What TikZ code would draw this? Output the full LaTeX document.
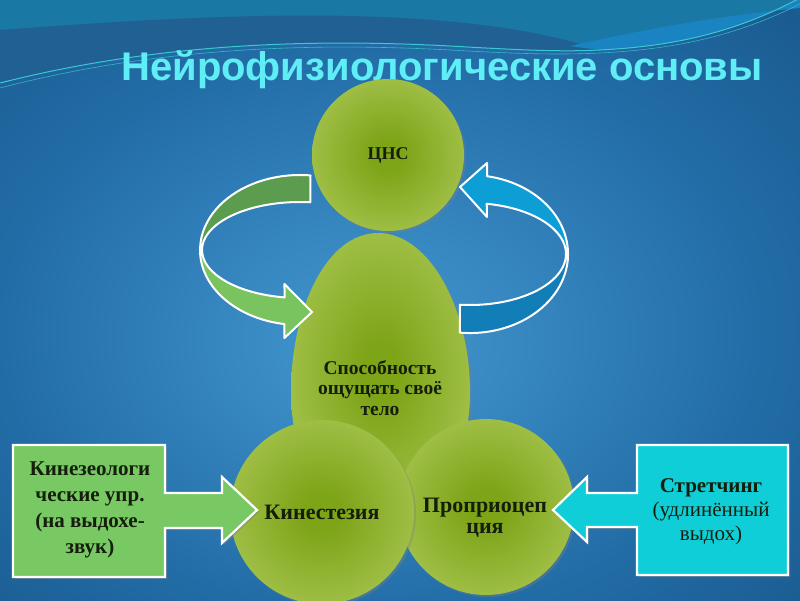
\documentclass[tikz,border=0pt]{standalone}
\usepackage{fontspec}
\setmainfont{Liberation Serif}
\newfontfamily\titlefont{Liberation Sans}
\usetikzlibrary{shadows}
\definecolor{bgin}{RGB}{68,152,208}
\definecolor{bgmid}{RGB}{34,108,166}
\definecolor{bgout}{RGB}{8,54,96}
\definecolor{bgteal}{RGB}{26,120,164}
\definecolor{bgdark}{RGB}{32,96,146}
\definecolor{bgbright}{RGB}{26,132,194}
\definecolor{swline}{RGB}{60,200,210}
\definecolor{ballin}{RGB}{126,164,24}
\definecolor{ballout}{RGB}{198,222,124}
\definecolor{txtdark}{RGB}{20,30,10}
\definecolor{titlecyan}{RGB}{96,238,246}
\definecolor{boxgreen}{RGB}{120,200,100}
\definecolor{boxcyan}{RGB}{16,206,216}
\definecolor{grback}{RGB}{92,156,78}
\definecolor{grfront}{RGB}{122,196,96}
\definecolor{blback}{RGB}{14,158,214}
\definecolor{blfront}{RGB}{18,126,184}
\pgfdeclareradialshading{greenball}{\pgfpoint{0bp}{0bp}}{color(0bp)=(ballin); color(5bp)=(ballin); color(50bp)=(ballout)}
\pgfdeclareradialshading{bgshade}{\pgfpoint{-2bp}{-4bp}}{color(0bp)=(bgin); color(24bp)=(bgmid); color(64bp)=(bgout)}
\begin{document}
\begin{tikzpicture}[x=1pt,y=-1pt,
  ball/.style={circle, shade, shading=greenball, inner sep=0pt, text=txtdark, align=center,
    drop shadow={opacity=0.35, shadow xshift=2pt, shadow yshift=-2pt}},
  lbl/.style={text=txtdark, align=center},
  band/.style={draw=white, line width=2pt, line join=round},
  blockbox/.style={draw=white, line width=2.2pt, line join=miter,
    drop shadow={opacity=0.45, shadow xshift=2pt, shadow yshift=-2pt}},
  boxtext/.style={text=txtdark, align=center}]
\useasboundingbox (0,0) rectangle (800,600);
% background
\shade[shading=bgshade] (0,0) rectangle (800,600);
\fill[bgteal] (0,0) -- (800,0) -- (800,-2) .. controls (740,30) and (680,46) .. (600,50)
  .. controls (560,52) and (520,50) .. (450,46) .. controls (300,38) and (150,45) .. (0,83) -- cycle;
\fill[bgdark] (0,30) .. controls (200,15) and (450,0) .. (600,50) .. controls (560,52) and (520,50) .. (450,46)
  .. controls (300,38) and (150,45) .. (0,83) -- cycle;
\fill[bgbright] (570,46) .. controls (650,28) and (720,16) .. (800,8) -- (800,-2)
  .. controls (740,30) and (680,46) .. (600,50) -- cycle;
\draw[swline, line width=1pt] (0,83) .. controls (150,45) and (300,38) .. (450,46)
  .. controls (520,50) and (560,52) .. (600,50) .. controls (680,46) and (740,30) .. (800,-2);
\draw[swline, line width=0.6pt, opacity=0.8] (0,88) .. controls (150,49) and (300,42) .. (450,50)
  .. controls (520,54) and (560,55) .. (600,53) .. controls (680,49) and (740,34) .. (800,4);
% title
\node[anchor=base, text=titlecyan, font=\titlefont\bfseries\fontsize{40}{44}\selectfont] (title) at (442,80) {Нейрофизиологические основы};
% egg
\shade[shading=greenball, drop shadow={opacity=0.35, shadow xshift=2pt, shadow yshift=-2pt}]
  (378,233) .. controls (430,233) and (470,310) .. (470,392) .. controls (470,470) and (430,512) .. (380,512)
  .. controls (330,512) and (291,470) .. (291,392) .. controls (291,310) and (326,233) .. (378,233) -- cycle;
\node[lbl, font=\bfseries\fontsize{19.5}{20.5}\selectfont] (egg) at (380,388) {Способность\\ощущать своё\\тело};
% circles
\node[ball, minimum size=152pt, font=\bfseries\fontsize{18}{20}\selectfont] (cns) at (388,155) {ЦНС};
\node[ball, minimum size=176pt, font=\bfseries\fontsize{22}{21}\selectfont, text depth=0pt] (prop) at (486,507) {};
\node[lbl, font=\bfseries\fontsize{22}{21}\selectfont] (proptext) at (485,518) {Проприоцеп\\ция};
\node[ball, minimum size=184pt, font=\bfseries\fontsize{22}{22}\selectfont] (kin) at (322,512) {Кинестезия};
% left curved arrow (green)
\fill[grback, band] (310.5,175.4) arc[start angle=84, end angle=180, x radius=100pt, y radius=75pt]
  -- (202,250) arc[start angle=180, end angle=84, x radius=98pt, y radius=48pt] -- cycle;
\fill[grfront, band] (200,250) arc[start angle=180, end angle=261, x radius=100pt, y radius=75pt]
  -- (284.4,338) -- (312,312) -- (284.4,284) -- (284.7,297.4)
  arc[start angle=261, end angle=180, x radius=98pt, y radius=48pt] -- cycle;
% right curved arrow (blue)
\fill[blfront, band] (459.8,332.6) arc[start angle=264, end angle=360, x radius=98pt, y radius=79pt]
  -- (566,254) arc[start angle=360, end angle=264, x radius=96pt, y radius=51pt] -- cycle;
\fill[blback, band] (568,254) arc[start angle=0, end angle=80, x radius=98pt, y radius=79pt]
  -- (487,163) -- (460,187) -- (487,217) -- (486.7,203.8)
  arc[start angle=80, end angle=0, x radius=96pt, y radius=51pt] -- cycle;
% left box with block arrow
\fill[boxgreen, blockbox] (13,445) -- (165,445) -- (165,493) -- (222,493) -- (222,477) -- (257,510)
  -- (222,543) -- (222,528) -- (165,528) -- (165,577) -- (13,577) -- cycle;
\node[boxtext, font=\bfseries\fontsize{21}{25.8}\selectfont] (boxL) at (90,510) {Кинезеологи\\ческие упр.\\(на выдохе-\\звук)};
% right box with block arrow
\fill[boxcyan, blockbox] (637,445) -- (788,445) -- (788,575) -- (637,575) -- (637,527) -- (587,527)
  -- (587,542) -- (553,510) -- (587,477) -- (587,493) -- (637,493) -- cycle;
\node[boxtext, font=\fontsize{21}{24}\selectfont] (boxR) at (711,512) {\textbf{Стретчинг}\\(удлинённый\\выдох)};
\end{tikzpicture}
\end{document}
